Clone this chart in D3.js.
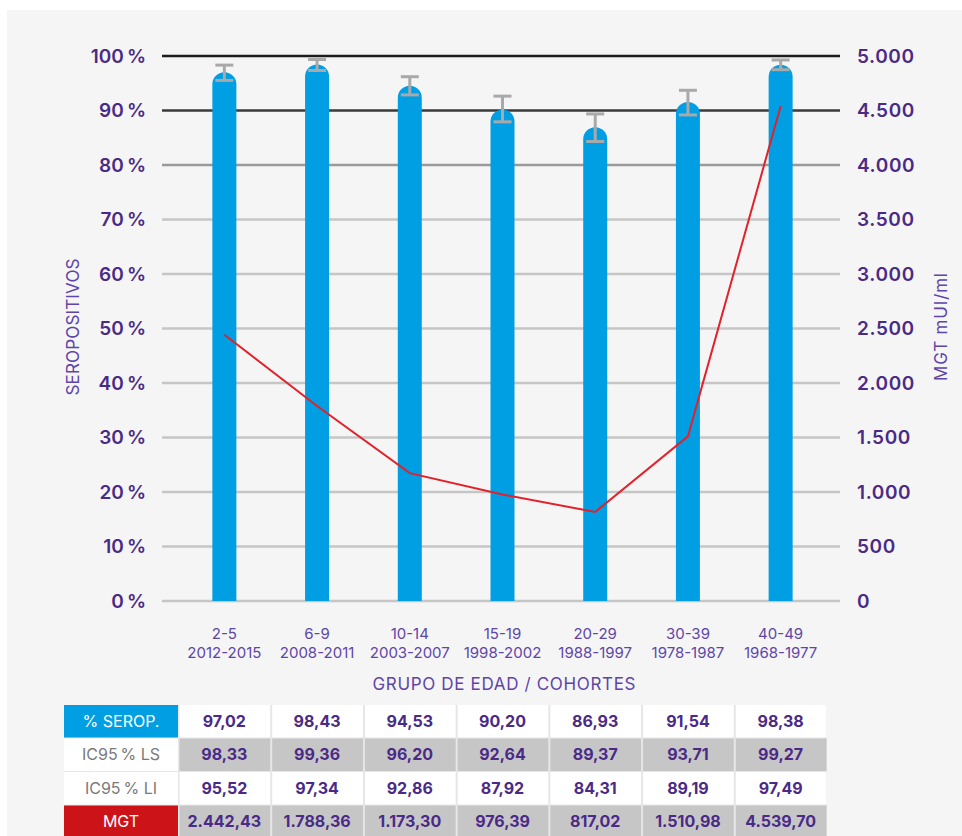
<!DOCTYPE html>
<html>
<head>
<meta charset="utf-8">
<script src="https://cdn.jsdelivr.net/npm/d3@7"></script>
<style>
  body { margin: 0; background: #fff; }
  svg { display: block; font-family: Inter, "Noto Sans", sans-serif; }
</style>
</head>
<body>
<svg width="962" height="836"></svg>
<script>
const width = 962;
const height = 836;

// data
const ageGroups = ["2-5", "6-9", "10-14", "15-19", "20-29", "30-39", "40-49"];
const cohorts = ["2012-2015", "2008-2011", "2003-2007", "1998-2002", "1988-1997", "1978-1987", "1968-1977"];
const seroPct = [97.02, 98.43, 94.53, 90.20, 86.93, 91.54, 98.38];
const icLS = [98.33, 99.36, 96.20, 92.64, 89.37, 93.71, 99.27];
const icLI = [95.52, 97.34, 92.86, 87.92, 84.31, 89.19, 97.49];
const mgt = [2442.43, 1788.36, 1173.30, 976.39, 817.02, 1510.98, 4539.70];
const pctTicks = [0, 10, 20, 30, 40, 50, 60, 70, 80, 90, 100];
const mgtTicks = [0, 500, 1000, 1500, 2000, 2500, 3000, 3500, 4000, 4500, 5000];

const purple = '#4a2a86';
const labelPurple = '#5e45a8';
const blue = '#009fe3';

const es = d3.formatLocale({decimal: ",", thousands: ".", grouping: [3], currency: ["", ""]});
const fmt2 = es.format(",.2f");
const fmt0 = es.format(",.0f");

const svg = d3.select('svg');

// panel background
svg.append('rect')
    .attr('x', 7).attr('y', 10)
    .attr('width', width - 7).attr('height', height - 10)
    .attr('fill', '#f5f5f5');

const xScale = d3.scaleBand()
    .domain(d3.range(ageGroups.length))
    .range([178, 827]);

const yLeft = d3.scaleLinear().domain([0, 100]).range([601, 56]);
const yRight = d3.scaleLinear().domain([0, 5000]).range([601, 56]);

const gridLeft = 162, gridRight = 840;
const gridColor = i => i === 10 ? '#1c1c1c' : i === 9 ? '#3a3a3a' : i === 8 ? '#9a9a9a' : '#c6c6c6';

// gridlines
svg.append('g').selectAll('line')
    .data(pctTicks)
    .enter().append('line')
    .attr('x1', gridLeft).attr('x2', gridRight)
    .attr('y1', d => yLeft(d)).attr('y2', d => yLeft(d))
    .attr('stroke', (d, i) => gridColor(i))
    .attr('stroke-width', 2.5);

// left axis
const leftAxis = svg.append('g')
    .attr('transform', 'translate(146,0)')
    .call(d3.axisLeft(yLeft).tickValues(pctTicks).tickSize(0).tickPadding(0)
        .tickFormat(d => d + '\u2009%'));
leftAxis.select('.domain').remove();
leftAxis.selectAll('text')
    .attr('fill', purple)
    .attr('font-size', 19)
    .attr('font-weight', 600)
    .attr('font-family', 'Inter, sans-serif');

// right axis
const rightAxis = svg.append('g')
    .attr('transform', 'translate(857,0)')
    .call(d3.axisRight(yRight).tickValues(mgtTicks).tickSize(0).tickPadding(0)
        .tickFormat(d => fmt0(d)));
rightAxis.select('.domain').remove();
rightAxis.selectAll('text')
    .attr('fill', purple)
    .attr('font-size', 19)
    .attr('font-weight', 600)
    .attr('letter-spacing', 0.6)
    .attr('font-family', 'Inter, sans-serif');

// bars with rounded tops
const barW = 24;
const r = barW / 2;
svg.append('g').selectAll('path')
    .data(seroPct)
    .enter().append('path')
    .attr('d', (d, i) => {
        const cx = xScale(i) + xScale.bandwidth() / 2;
        const x0 = cx - r, x1 = cx + r;
        const top = yLeft(d), base = yLeft(0);
        return `M${x0},${base}L${x0},${top + r}A${r},${r} 0 0 1 ${x1},${top + r}L${x1},${base}Z`;
    })
    .attr('fill', blue);

// error bars
const errG = svg.append('g').attr('stroke', '#a9a9a9').attr('stroke-width', 3);
icLS.forEach((hi, i) => {
    const cx = xScale(i) + xScale.bandwidth() / 2;
    const lo = icLI[i];
    errG.append('line').attr('x1', cx).attr('x2', cx).attr('y1', yLeft(hi)).attr('y2', yLeft(lo));
    errG.append('line').attr('x1', cx - 9).attr('x2', cx + 9).attr('y1', yLeft(hi)).attr('y2', yLeft(hi));
    errG.append('line').attr('x1', cx - 9).attr('x2', cx + 9).attr('y1', yLeft(lo)).attr('y2', yLeft(lo));
});

// MGT line
const line = d3.line()
    .x((d, i) => xScale(i) + xScale.bandwidth() / 2)
    .y(d => yRight(d));
svg.append('path')
    .datum(mgt)
    .attr('d', line)
    .attr('fill', 'none')
    .attr('stroke', '#e2222b')
    .attr('stroke-width', 2);

// axis titles
svg.append('text')
    .text('SEROPOSITIVOS')
    .attr('transform', 'translate(79,327) rotate(-90)')
    .attr('text-anchor', 'middle')
    .attr('fill', labelPurple)
    .attr('font-size', 17)
    .attr('textLength', 137)
    .attr('lengthAdjust', 'spacing');

svg.append('text')
    .text('MGT mUI/ml')
    .attr('transform', 'translate(947,327) rotate(-90)')
    .attr('text-anchor', 'middle')
    .attr('fill', labelPurple)
    .attr('font-size', 17)
    .attr('textLength', 108)
    .attr('lengthAdjust', 'spacing');

// x labels
const xLab = svg.append('g').selectAll('text')
    .data(ageGroups)
    .enter().append('text')
    .attr('text-anchor', 'middle')
    .attr('fill', labelPurple)
    .attr('font-size', 15);
xLab.append('tspan')
    .attr('x', (d, i) => xScale(i) + xScale.bandwidth() / 2)
    .attr('y', 639)
    .text(d => d);
xLab.append('tspan')
    .attr('x', (d, i) => xScale(i) + xScale.bandwidth() / 2)
    .attr('y', 658)
    .text((d, i) => cohorts[i]);

svg.append('text')
    .text('GRUPO DE EDAD / COHORTES')
    .attr('x', 504).attr('y', 690)
    .attr('text-anchor', 'middle')
    .attr('fill', labelPurple)
    .attr('font-size', 17)
    .attr('textLength', 263)
    .attr('lengthAdjust', 'spacing');

// table
const tableRows = [
    {label: '% SEROP.', values: seroPct.map(fmt2), labelFill: blue, labelColor: '#fff', cellFill: '#fff'},
    {label: 'IC95\u2009% LS', values: icLS.map(fmt2), labelFill: '#fff', labelColor: '#7a7a7a', cellFill: '#c6c6c6'},
    {label: 'IC95\u2009% LI', values: icLI.map(fmt2), labelFill: '#fff', labelColor: '#7a7a7a', cellFill: '#fff'},
    {label: 'MGT', values: mgt.map(fmt2), labelFill: '#cc1418', labelColor: '#fff', cellFill: '#c6c6c6'}
];
const tableTop = 705, rowH = 33.5, labelX0 = 64, labelX1 = 178;

const yRow = d3.scaleBand()
    .domain(d3.range(tableRows.length))
    .range([tableTop, tableTop + rowH * tableRows.length]);

svg.append('rect')
    .attr('x', labelX0).attr('y', tableTop)
    .attr('width', 827 - labelX0).attr('height', rowH * tableRows.length)
    .attr('fill', '#e6e6e6');

const rowG = svg.append('g').selectAll('g')
    .data(tableRows)
    .enter().append('g')
    .attr('transform', (d, i) => `translate(0,${yRow(i)})`);

rowG.append('rect')
    .attr('x', labelX0).attr('y', 0)
    .attr('width', labelX1 - labelX0).attr('height', rowH - 1)
    .attr('fill', d => d.labelFill);
rowG.append('text')
    .text(d => d.label)
    .attr('x', (labelX0 + labelX1) / 2).attr('y', rowH / 2 + 5)
    .attr('text-anchor', 'middle')
    .attr('fill', d => d.labelColor)
    .attr('font-size', 16);

rowG.each(function(row) {
    const g = d3.select(this);
    g.selectAll('rect.cell')
        .data(row.values)
        .enter().append('rect')
        .attr('class', 'cell')
        .attr('x', (d, i) => xScale(i) + 1.5)
        .attr('y', 0)
        .attr('width', xScale.bandwidth() - 2)
        .attr('height', rowH - 1)
        .attr('fill', row.cellFill);
    g.selectAll('text.val')
        .data(row.values)
        .enter().append('text')
        .attr('class', 'val')
        .text(d => d)
        .attr('x', (d, i) => xScale(i) + xScale.bandwidth() / 2)
        .attr('y', rowH / 2 + 5)
        .attr('text-anchor', 'middle')
        .attr('fill', purple)
        .attr('font-size', 16)
        .attr('font-weight', 700);
});
</script>
</body>
</html>
